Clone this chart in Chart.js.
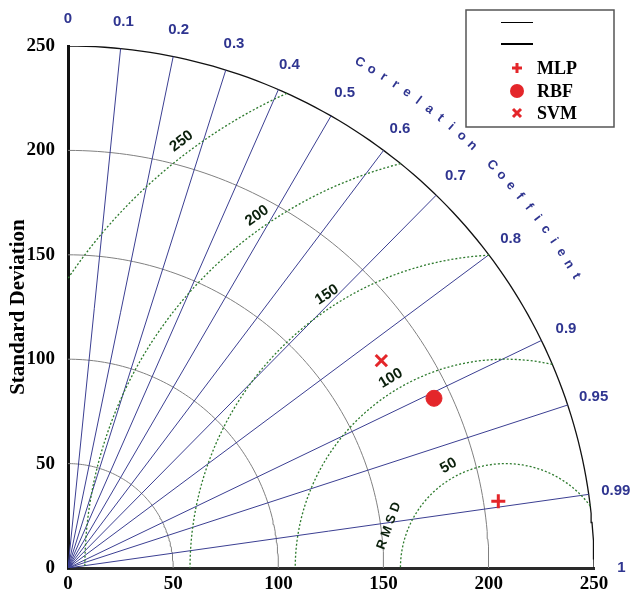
<!DOCTYPE html>
<html>
<head>
<meta charset="utf-8">
<script src="https://cdn.jsdelivr.net/npm/chart.js@4.4.1/dist/chart.umd.min.js"></script>
<style>
  html, body { margin: 0; padding: 0; background: #fff; }
  #wrap { width: 631px; height: 598px; position: relative; }
</style>
</head>
<body>
<div id="wrap"><canvas id="taylor" width="631" height="598"></canvas></div>
<script>
// models and their statistics
var modelNames = ['MLP', 'RBF', 'SVM'];
var modelStd = [207, 192, 179];
var modelCorr = [0.988, 0.906, 0.832];

// observed (reference) standard deviation
var refStd = 208;

// grid values
var stdTicks = [0, 50, 100, 150, 200, 250];
var corrTicks = [0, 0.1, 0.2, 0.3, 0.4, 0.5, 0.6, 0.7, 0.8, 0.9, 0.95, 0.99, 1];
var rmsdTicks = [50, 100, 150, 200, 250];
var corrTitle = 'Correlation Coefficient';
var rmsdTitle = 'R M S D';

var maxStd = stdTicks[stdTicks.length - 1];
var RED = '#e4262a';
var BLUE = '#2f3590';
var SERIF = '"Liberation Serif", "Times New Roman", serif';
var SANS = '"Liberation Sans", Arial, sans-serif';

var markerStyle = {
    MLP: { pointStyle: 'cross', pointRadius: 7, borderWidth: 3 },
    RBF: { pointStyle: 'circle', pointRadius: 8, borderWidth: 1 },
    SVM: { pointStyle: 'crossRot', pointRadius: 8, borderWidth: 3 }
};

function polar(std, corr) {
    var a = Math.acos(corr);
    return { x: std * Math.cos(a), y: std * Math.sin(a) };
}

var datasets = [];

// model points (first, so they are drawn on top)
modelNames.forEach(function(name, i) {
    var st = markerStyle[name];
    datasets.push({
        label: name,
        data: [polar(modelStd[i], modelCorr[i])],
        pointStyle: st.pointStyle,
        pointRadius: st.pointRadius,
        borderWidth: st.borderWidth,
        borderColor: RED,
        backgroundColor: RED,
        showLine: false
    });
});

// RMSD arcs around the reference point, kept inside the quarter disc
rmsdTicks.forEach(function(r) {
    var cMin = (maxStd * maxStd - refStd * refStd - r * r) / (2 * refStd * r);
    var t0 = Math.acos(Math.max(-1, Math.min(1, cMin)));
    var t1 = Math.acos(Math.max(-1, -refStd / r));
    var pts = [];
    for (var k = 0; k <= 120; k++) {
        var t = t0 + (t1 - t0) * k / 120;
        pts.push({ x: refStd + r * Math.cos(t), y: r * Math.sin(t) });
    }
    datasets.push({
        data: pts, showLine: true, pointRadius: 0, tension: 0,
        borderColor: '#2d7a2d', borderWidth: 1.3, borderDash: [2, 2]
    });
});

// correlation rays
corrTicks.forEach(function(c) {
    if (c === 0 || c === 1) return;
    datasets.push({
        data: [{ x: 0, y: 0 }, polar(maxStd, c)],
        showLine: true, pointRadius: 0,
        borderColor: '#3b3f92', borderWidth: 1
    });
});

// standard deviation arcs
stdTicks.forEach(function(s) {
    if (s === 0) return;
    var pts = [];
    for (var k = 0; k <= 90; k++) {
        var a = k * Math.PI / 180;
        pts.push({ x: s * Math.cos(a), y: s * Math.sin(a) });
    }
    datasets.push({
        data: pts, showLine: true, pointRadius: 0, tension: 0,
        borderColor: s === maxStd ? '#111' : '#808080',
        borderWidth: s === maxStd ? 1.3 : 1
    });
});

// texts and legend drawn with the chart's scales
var taylorText = {
    id: 'taylorText',
    afterDraw: function(chart) {
        var ctx = chart.ctx, xs = chart.scales.x, ys = chart.scales.y;
        function P(x, y) { return [xs.getPixelForValue(x), ys.getPixelForValue(y)]; }
        ctx.save();
        ctx.textAlign = 'center';
        ctx.textBaseline = 'middle';

        // correlation labels
        ctx.fillStyle = BLUE;
        ctx.font = 'bold 15px ' + SANS;
        corrTicks.forEach(function(c) {
            var q = polar(maxStd + 13, c);
            var p = P(q.x, q.y);
            ctx.fillText(String(c), p[0], p[1]);
        });

        // curved title
        ctx.font = 'bold 13px ' + SANS;
        for (var i = 0; i < corrTitle.length; i++) {
            var a = (60.2 - i * 1.37) * Math.PI / 180;
            var p = P((maxStd + 29) * Math.cos(a), (maxStd + 29) * Math.sin(a));
            ctx.save();
            ctx.translate(p[0], p[1]);
            ctx.rotate(Math.PI / 2 - a);
            ctx.fillText(corrTitle[i], 0, 0);
            ctx.restore();
        }

        // RMSD labels
        ctx.fillStyle = '#0b200c';
        ctx.font = 'bold 15px ' + SANS;
        rmsdTicks.forEach(function(r) {
            var a = (117 + r / 25) * Math.PI / 180;
            var p = P(refStd + (r + 6) * Math.cos(a), (r + 6) * Math.sin(a));
            ctx.save();
            ctx.translate(p[0], p[1]);
            ctx.rotate(-(a - Math.PI / 2));
            ctx.fillText(String(r), 0, 0);
            ctx.restore();
        });
        ctx.font = 'bold 13px ' + SANS;
        var ra = 160 * Math.PI / 180;
        var rp = P(refStd + (rmsdTicks[0] + 9) * Math.cos(ra), (rmsdTicks[0] + 9) * Math.sin(ra));
        ctx.save();
        ctx.translate(rp[0], rp[1]);
        ctx.rotate(-(ra - Math.PI / 2));
        ctx.fillText(rmsdTitle, 0, 0);
        ctx.restore();

        // legend box
        ctx.strokeStyle = '#555';
        ctx.lineWidth = 1.5;
        ctx.strokeRect(466, 10, 148, 117);
        ctx.strokeStyle = '#000';
        ctx.lineWidth = 1;
        ctx.beginPath(); ctx.moveTo(501, 22.5); ctx.lineTo(533, 22.5); ctx.stroke();
        ctx.lineWidth = 2;
        ctx.beginPath(); ctx.moveTo(501, 44); ctx.lineTo(533, 44); ctx.stroke();

        var rowY = [68, 91, 113];
        ctx.textAlign = 'left';
        ctx.font = 'bold 18px ' + SERIF;
        modelNames.forEach(function(name, i) {
            var y = rowY[i], x = 517, st = markerStyle[name].pointStyle;
            ctx.strokeStyle = RED;
            ctx.fillStyle = RED;
            ctx.lineWidth = 3;
            ctx.beginPath();
            if (st === 'cross') {
                ctx.moveTo(x - 5, y); ctx.lineTo(x + 5, y);
                ctx.moveTo(x, y - 5); ctx.lineTo(x, y + 5);
                ctx.stroke();
            } else if (st === 'circle') {
                ctx.arc(x, y, 7, 0, Math.PI * 2);
                ctx.fill();
            } else {
                ctx.moveTo(x - 4, y - 4); ctx.lineTo(x + 4, y + 4);
                ctx.moveTo(x + 4, y - 4); ctx.lineTo(x - 4, y + 4);
                ctx.stroke();
            }
            ctx.fillStyle = '#000';
            ctx.fillText(name, 537, y + 1);
        });
        ctx.restore();
    }
};

var tickFont = { family: SERIF, weight: 'bold', size: 19 };

var ctx = document.getElementById('taylor').getContext('2d');
var taylorChart = new Chart(ctx, {
    type: 'scatter',
    data: { datasets: datasets },
    options: {
        responsive: false,
        animation: false,
        events: [],
        layout: { padding: { top: 46, right: 37, left: 0, bottom: 0 } },
        plugins: { legend: { display: false }, tooltip: { enabled: false } },
        scales: {
            x: {
                type: 'linear', min: 0, max: maxStd,
                afterFit: function(s) { s.height = 30; },
                grid: { display: false },
                border: { display: true, color: '#2a2a2a', width: 3 },
                ticks: { stepSize: 50, color: '#000', padding: -3, font: tickFont }
            },
            y: {
                type: 'linear', min: 0, max: maxStd,
                afterFit: function(s) { s.width = 68; },
                grid: { display: false },
                border: { display: true, color: '#111', width: 3 },
                ticks: { stepSize: 50, color: '#000', padding: 5, font: tickFont },
                title: {
                    display: true, text: 'Standard Deviation', color: '#000',
                    font: { family: SERIF, weight: 'bold', size: 21 },
                    padding: { top: 6, bottom: 0 }
                }
            }
        }
    },
    plugins: [taylorText]
});
</script>
</body>
</html>
